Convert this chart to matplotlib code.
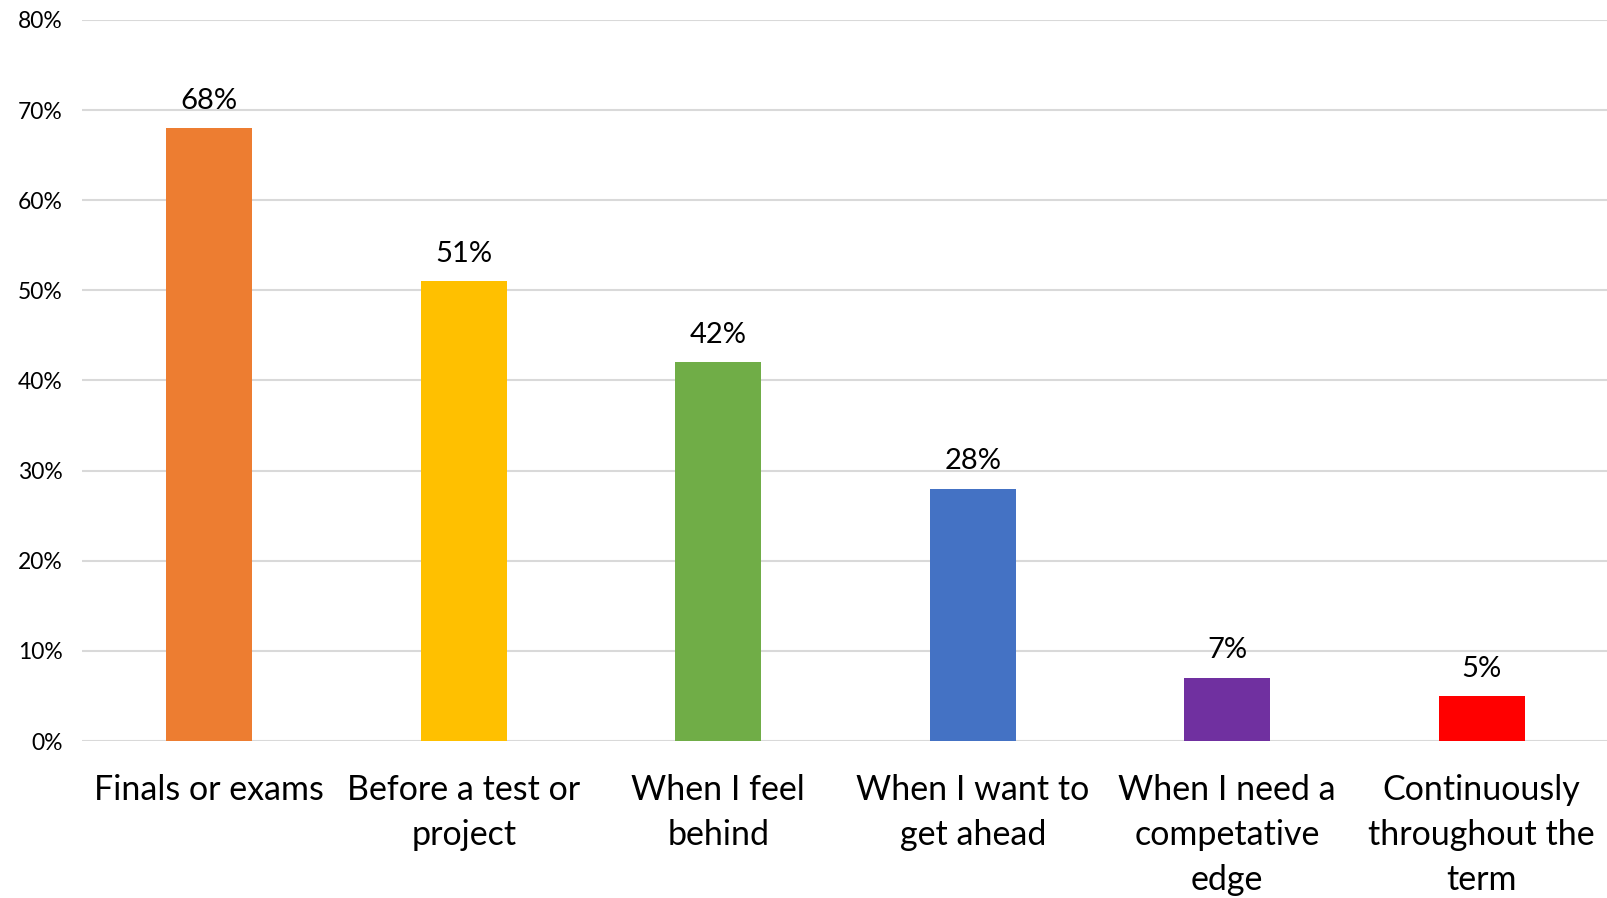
import matplotlib.pyplot as plt
from matplotlib.ticker import PercentFormatter

categories = ["Finals or exams", "Before a test or\nproject", "When I feel\nbehind",
              "When I want to\nget ahead", "When I need a\ncompetative\nedge",
              "Continuously\nthroughout the\nterm"]
values = [68, 51, 42, 28, 7, 5]
colors = ["#ED7D31", "#FFC000", "#70AD47", "#4472C4", "#7030A0", "#FF0000"]

plt.rcParams['font.family'] = ['Lato', 'DejaVu Sans']

fig = plt.figure(figsize=(16.08, 8.98), dpi=100)
ax = fig.add_axes([82 / 1608, 1 - 741 / 898, 1527 / 1608, 721 / 898])

x = range(len(categories))
bars = ax.bar(x, values, width=0.338, color=colors, zorder=3)
for b, v in zip(bars, values):
    ax.text(b.get_x() + b.get_width() / 2, v + 1.6, f"{v}%", ha="center",
            va="bottom", fontsize=21)

ax.set_ylim(0, 80)
ax.set_xlim(-0.5, len(categories) - 0.5)
ax.set_yticks(range(0, 81, 10))
ax.yaxis.set_major_formatter(PercentFormatter(decimals=0))
ax.grid(axis="y", color="#d9d9d9", linewidth=1.5, zorder=0)
ax.set_xticks(list(x))
ax.set_xticklabels(categories, fontsize=24.5, linespacing=1.5)
ax.tick_params(axis="x", length=0, pad=24)
ax.tick_params(axis="y", length=0, pad=14, labelsize=16.5)
for s in ax.spines.values():
    s.set_visible(False)

fig.savefig("out.png", dpi=100)
